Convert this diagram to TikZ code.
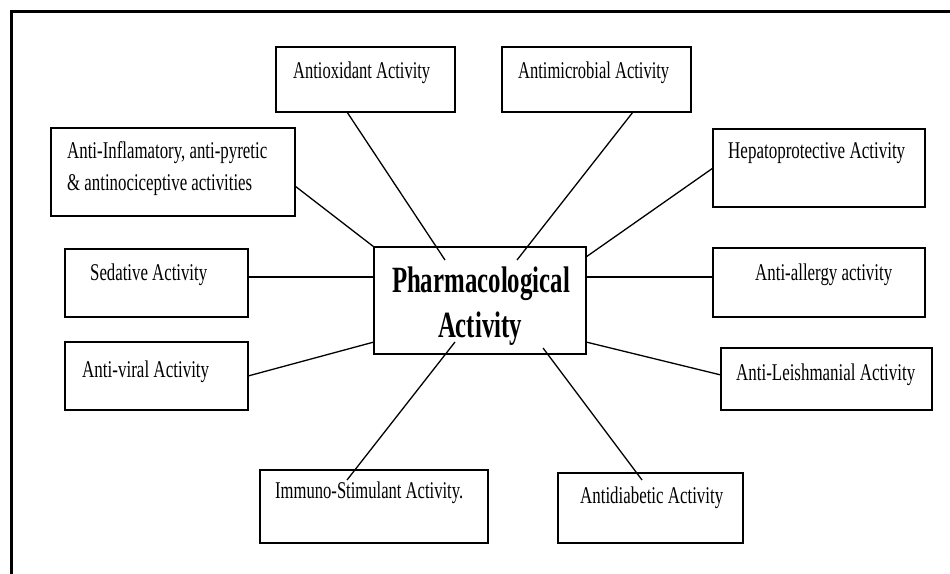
\documentclass[tikz,border=0pt]{standalone}
\usepackage{graphicx}
\usepackage{fontspec}
\setmainfont{Liberation Serif}
\newcommand{\fitw}[2]{\resizebox{#1}{\height}{#2}}
\begin{document}
\begin{tikzpicture}[x=1pt,y=-1pt]
\tikzset{
  box/.style={draw, line width=1.6pt, rectangle, inner sep=0pt, outer sep=0pt},
  lbl/.style={anchor=base west, inner sep=0pt, font=\fontsize{24}{28}\selectfont},
  big/.style={anchor=base, inner sep=0pt, font=\fontsize{37}{41}\selectfont\bfseries},
  link/.style={line width=1.3pt},
  frame/.style={line width=3.5pt}
}
\useasboundingbox (0,0) rectangle (950,573);
\fill[white] (0,0) rectangle (950,573);
\coordinate (fb) at (11.5,575);
\coordinate (fc) at (11.5,11.5);
\coordinate (fr) at (952,11.5);
\draw[frame] (fb) -- (fc) -- (fr);

% boxes
\node[box, minimum width=179pt, minimum height=65pt] (ao) at (365.5,79.5) {};
\node[box, minimum width=189pt, minimum height=65pt] (am) at (596.5,79.5) {};
\node[box, minimum width=244pt, minimum height=88pt] (ai) at (173,172) {};
\node[box, minimum width=212pt, minimum height=78pt] (hp) at (819,168) {};
\node[box, minimum width=183pt, minimum height=68pt] (sed) at (156.5,283) {};
\node[box, minimum width=212pt, minimum height=107pt] (ctr) at (480,300.5) {};
\node[box, minimum width=212pt, minimum height=69pt] (aa) at (819,282.5) {};
\node[box, minimum width=183pt, minimum height=68pt] (av) at (156.5,376) {};
\node[box, minimum width=211pt, minimum height=62pt] (al) at (826.5,379) {};
\node[box, minimum width=228pt, minimum height=73pt] (im) at (374,506.5) {};
\node[box, minimum width=185pt, minimum height=70pt] (ad) at (650.5,508) {};

% labels
\node[lbl] (ao-t) at (293,78) {\fitw{137pt}{Antioxidant Activity}};
\node[lbl] (am-t) at (518,78) {\fitw{151pt}{Antimicrobial Activity}};
\node[lbl] (ai-t1) at (67,158) {\fitw{200pt}{Anti-Inflamatory, anti-pyretic}};
\node[lbl] (ai-t2) at (67,190) {\fitw{185pt}{\& antinociceptive activities}};
\node[lbl] (hp-t) at (728,158) {\fitw{177pt}{Hepatoprotective Activity}};
\node[lbl] (sed-t) at (90,280) {\fitw{117pt}{Sedative Activity}};
\node[lbl] (aa-t) at (755,280) {\fitw{137pt}{Anti-allergy activity}};
\node[lbl] (av-t) at (82,377) {\fitw{127pt}{Anti-viral Activity}};
\node[lbl] (al-t) at (736,380) {\fitw{179pt}{Anti-Leishmanial Activity}};
\node[lbl] (im-t) at (275,498) {\fitw{188pt}{Immuno-Stimulant Activity.}};
\node[lbl] (ad-t) at (580,503) {\fitw{143pt}{Antidiabetic Activity}};
\node[big] (ctr-t1) at (481,292) {\fitw{178pt}{Pharmacological}};
\node[big] (ctr-t2) at (480,337) {\fitw{84pt}{Activity}};

% connectors
\draw[link] ([xshift=-18.5pt]ao.south) -- ([xshift=-35pt,yshift=-13pt]ctr.north);
\draw[link] ([xshift=36.5pt]am.south) -- ([xshift=37pt,yshift=-13pt]ctr.north);
\draw[link] ([yshift=-14pt]ai.east) -- (ctr.north west);
\draw[link] ([yshift=6pt]sed.east) -- ([yshift=23.5pt]ctr.west);
\draw[link] (hp.west) -- ([yshift=-10pt]ctr.north east);
\draw[link] ([yshift=5.5pt]aa.west) -- ([yshift=23.5pt]ctr.east);
\draw[link] (av.east) -- ([yshift=12pt]ctr.south west);
\draw[link] ([yshift=4pt]al.west) -- ([yshift=12pt]ctr.south east);
\draw[link] ([xshift=-27pt,yshift=-10pt]im.north) -- ([xshift=-25pt,yshift=12pt]ctr.south);
\draw[link] ([xshift=63pt,yshift=6pt]ctr.south) -- ([xshift=-8.5pt,yshift=-7pt]ad.north);
\end{tikzpicture}
\end{document}
